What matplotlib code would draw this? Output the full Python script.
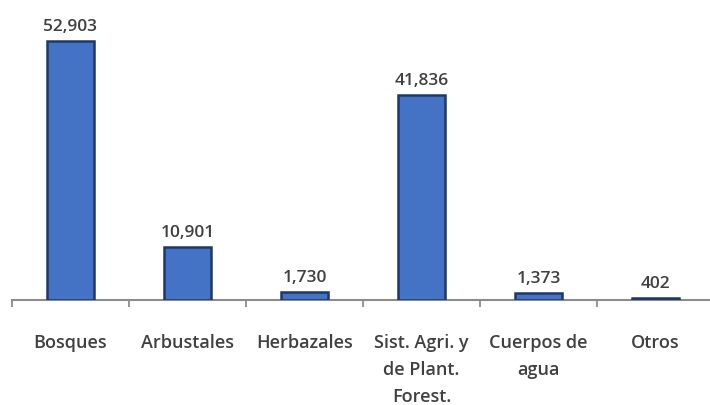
import matplotlib
matplotlib.use("Agg")
import matplotlib.pyplot as plt
import numpy as np

categories = ["Bosques", "Arbustales", "Herbazales", "Sist. Agri. y\nde Plant.\nForest.", "Cuerpos de\nagua", "Otros"]
values = [52903, 10901, 1730, 41836, 1373, 402]

plt.rcParams['font.family'] = ['Open Sans', 'DejaVu Sans']

fig = plt.figure(figsize=(7.10, 4.06), dpi=100)
ax = fig.add_axes([12/710, (406-301)/406, 702/710, 301/406])

x = np.arange(len(categories))
ax.bar(x, values, width=0.41, color="#4472C4", edgecolor="#1F3864", linewidth=1.8, zorder=3)

for xi, v in zip(x, values):
    ax.annotate(f"{v:,}", (xi, v), xytext=(0, 5), textcoords="offset points",
                ha="center", va="bottom", fontsize=12.5, fontweight="semibold", color="#404040")

ax.set_xlim(-0.5, len(categories) - 0.5)
ax.set_ylim(0, 52903 * 301 / 259)

for s in ["top", "right", "left"]:
    ax.spines[s].set_visible(False)
ax.spines["bottom"].set_color("#8c8c8c")
ax.spines["bottom"].set_linewidth(1.5)
ax.set_yticks([])

ax.set_xticks(x)
ax.set_xticklabels(categories, fontsize=13, fontweight="semibold", color="#404040",
                   linespacing=1.62, va="top")
ax.tick_params(axis="x", which="major", length=0, pad=24)
ax.set_xticks(np.arange(-0.5, len(categories) + 0.5, 1), minor=True)
ax.tick_params(axis="x", which="minor", length=5, width=1.3, color="#8c8c8c", direction="out")

fig.savefig("out.png", dpi=100)
